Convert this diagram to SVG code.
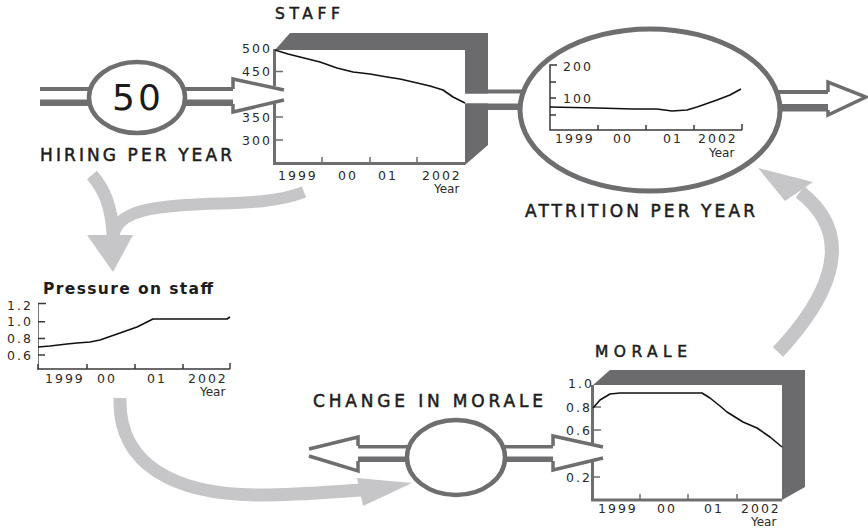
<svg xmlns="http://www.w3.org/2000/svg" width="868" height="529" viewBox="0 0 868 529">
<style>
.frame{fill:#6b6b6d}
.pipeo{fill:#6e6e70}
.pipei{fill:#fff}
.ring{fill:#fff;stroke:#6e6e70;stroke-width:4.5}
.head{fill:#fff;stroke:none}
.heads{fill:none;stroke:#6e6e70;stroke-width:3.5;stroke-linejoin:miter}
.axis{fill:none;stroke:#6e6e70;stroke-width:3}
.tick{fill:none;stroke:#6e6e70;stroke-width:1.5}
.thin{fill:none;stroke:#3a3a3a;stroke-width:1.5}
.curve{fill:none;stroke:#111;stroke-width:1.6;stroke-linejoin:round}
.band{fill:none;stroke:#c6c6c8;stroke-width:13}
.bhead{fill:#c6c6c8}
.h{font-family:"DejaVu Sans",sans-serif;font-size:17px;fill:#1c1c1c;stroke:#1c1c1c;stroke-width:0.5}
.hs{font-size:15.5px}
.n{font-family:"DejaVu Sans",sans-serif;font-size:12.5px;letter-spacing:2px;fill:#2a2a2a}
.yr{font-family:"DejaVu Sans",sans-serif;font-size:12px;fill:#2a2a2a}
</style>

<g id="connectors">
  <!-- hiring inflow -->
  <rect class="pipeo" x="40" y="87" width="195" height="19"/>
  <rect class="pipei" x="40" y="91" width="197" height="8.5"/>
  <polygon class="head" points="233,79 284,90 284,100 233,112"/>
  <path class="heads" d="M233,89 V79 L284,90 M233,104 V112 L284,100"/>
  <!-- staff to attrition -->
  <rect class="pipeo" x="465" y="89.5" width="60" height="20.5"/>
  <rect class="pipei" x="465" y="93.5" width="60" height="10"/>
  <!-- attrition outflow -->
  <rect class="pipeo" x="775" y="90" width="55" height="21.5"/>
  <rect class="pipei" x="775" y="94" width="57" height="10"/>
  <polygon class="head" points="828,82 867,97 828,115"/>
  <path class="heads" d="M828,92 V82 L866,97 L828,115 V110"/>
  <!-- change in morale left -->
  <rect class="pipeo" x="355" y="445" width="55" height="17"/>
  <rect class="pipei" x="353" y="448.5" width="57" height="8"/>
  <polygon class="head" points="358,437 309,449 309,456 358,471"/>
  <path class="heads" d="M358,446 V437 L309,449 M358,461 V471 L309,456"/>
  <!-- change in morale right -->
  <rect class="pipeo" x="500" y="445" width="55" height="17"/>
  <rect class="pipei" x="500" y="448.5" width="57" height="8"/>
  <polygon class="head" points="553,436 603,447 603,458 553,470"/>
  <path class="heads" d="M553,446 V436 L603,447 M553,461 V470 L603,458"/>
  <!-- light gray causal arrows -->
  <path class="band" style="stroke-width:12" d="M304,192 C270,205 230,202 185,205 C140,208 117,215 113,236"/>
  <path class="band" d="M92,175 C103,188 112,205 113,236"/>
  <polygon class="bhead" points="87,235 133,235 113,272"/>
  <path class="band" d="M120,398 C118,465 175,495 260,495 C300,495 330,492 362,490"/>
  <polygon class="bhead" points="357,478 412,483 363,506"/>
  <path class="band" style="stroke-width:14" d="M778,352 C822,305 862,240 800,192"/>
  <polygon class="bhead" points="785,201 758,168 813,182"/>
</g>

<g id="hiring">
  <ellipse class="ring" cx="137" cy="97.5" rx="48" ry="35.5"/>
  <text x="112" y="110" style="font-family:'DejaVu Sans',sans-serif;font-size:36px;letter-spacing:3px;fill:#1a1a1a">50</text>
  <text class="h" x="40" y="161" textLength="192" lengthAdjust="spacing">HIRING PER YEAR</text>
</g>

<g id="staff">
  <polygon class="frame" points="275,50 290,33 488,33 488,93.5 465,93.5 465,50"/>
  <polygon class="frame" points="465,103.5 488,103.5 488,145 465,165"/>
  <path class="axis" d="M274.5,49 V86 M274.5,104 V165 M273,163.5 H465"/>
  <path class="tick" d="M322,163 V157 M370,163 V157 M417,163 V157 M275,71.5 H283 M275,117 H283 M275,140 H283"/>
  <path class="curve" d="M275,50 L288,54 300,57 320,62 337,68 353,72 370,74 387,77 400,79 413,82 430,86 443,90 453,97 465,103"/>
  <text class="h hs" x="275" y="19" textLength="65" lengthAdjust="spacing">STAFF</text>
  <text class="n" x="242" y="52.5">500</text>
  <text class="n" x="242" y="76">450</text>
  <text class="n" x="242" y="121.5">350</text>
  <text class="n" x="242" y="144.5">300</text>
  <text class="n" x="278" y="180">1999</text>
  <text class="n" x="338" y="180">00</text>
  <text class="n" x="378" y="180">01</text>
  <text class="n" x="422" y="180">2002</text>
  <text class="yr" x="434" y="193">Year</text>
</g>

<g id="attrition">
  <ellipse class="ring" style="stroke-width:5" cx="650" cy="110" rx="130" ry="81"/>
  <path class="thin" d="M557,65 H550 V130 H742 M550,82 H556 M550,98 H556 M550,115 H556 M598,130 V125 M646,130 V125 M694,130 V125 M742,130 V124"/>
  <path class="curve" d="M550,107 L597,108 633,109 657,109 672,111 687,110 697,107 717,100 730,95 741,89"/>
  <text class="n" x="563" y="70.5">200</text>
  <text class="n" x="563" y="102.5">100</text>
  <text class="n" x="555" y="143">1999</text>
  <text class="n" x="613" y="143">00</text>
  <text class="n" x="663" y="143">01</text>
  <text class="n" x="698" y="143">2002</text>
  <text class="yr" x="709" y="157">Year</text>
  <text class="h" x="525" y="217" textLength="230" lengthAdjust="spacing">ATTRITION PER YEAR</text>
</g>

<g id="pressure">
  <text x="43" y="294" textLength="170" lengthAdjust="spacing" style="font-family:'DejaVu Sans',sans-serif;font-weight:700;font-size:15.5px;fill:#1c1c1c">Pressure on staff</text>
  <path style="fill:none;stroke:#777;stroke-width:1" d="M38.5,303 V369"/>
  <path class="thin" d="M38,303.5 H46 M38,321.7 H45 M38,338.5 H45 M38,355 H45 M37,369 H230 M38,369 V364 M87,369 V364 M135,369 V364 M183,369 V364 M230,369 V363"/>
  <path class="curve" d="M38,347 L50,346 67,344 77,343 90,342 100,340 120,333 137,327 153,319 227,319 230,317"/>
  <text class="n" x="7" y="310">1.2</text>
  <text class="n" x="7" y="326.3">1.0</text>
  <text class="n" x="7" y="343">0.8</text>
  <text class="n" x="7" y="359.5">0.6</text>
  <text class="n" x="45" y="383">1999</text>
  <text class="n" x="97" y="383">00</text>
  <text class="n" x="147" y="383">01</text>
  <text class="n" x="188" y="383">2002</text>
  <text class="yr" x="200" y="396">Year</text>
</g>

<g id="change-in-morale">
  <ellipse class="ring" cx="456" cy="457.5" rx="49" ry="37.5"/>
  <text class="h" x="313" y="407" textLength="230" lengthAdjust="spacing">CHANGE IN MORALE</text>
</g>

<g id="morale">
  <polygon class="frame" points="593,385 610,370 805,370 805,487 782,500 782,385"/>
  <path class="axis" d="M592.5,385 V443 M592.5,462 V501.5 M591,500 H782"/>
  <path class="tick" d="M640,500 V494 M688,500 V494 M737,500 V494 M593,407 H601 M593,430 H601 M593,477 H600"/>
  <path class="curve" d="M593,408 L600,400 610,394 620,393 702,393 710,398 720,406 727,412 743,422 757,428 770,437 782,447"/>
  <text class="h hs" x="595" y="357" textLength="92" lengthAdjust="spacing">MORALE</text>
  <text class="n" x="568" y="387.5">1.0</text>
  <text class="n" x="566" y="411.5">0.8</text>
  <text class="n" x="566" y="434.5">0.6</text>
  <text class="n" x="566" y="481.5">0.2</text>
  <text class="n" x="598" y="513">1999</text>
  <text class="n" x="657" y="513">00</text>
  <text class="n" x="704" y="513">01</text>
  <text class="n" x="741" y="513">2002</text>
  <text class="yr" x="751" y="526">Year</text>
</g>
</svg>
